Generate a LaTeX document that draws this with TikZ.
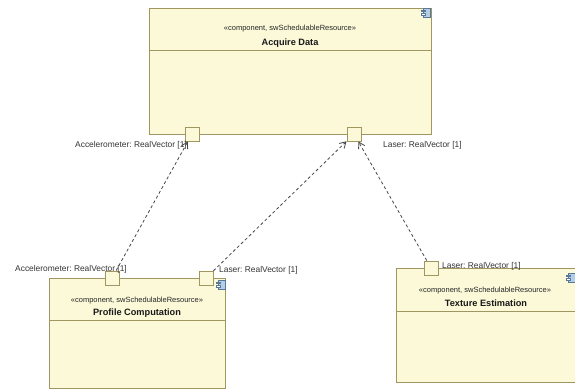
\documentclass[tikz,border=0pt]{standalone}
\usepackage{fontspec}
\setmainfont{Liberation Sans}
\usetikzlibrary{arrows.meta}
\frenchspacing
\definecolor{compfill}{RGB}{251,249,216}
\definecolor{compedge}{RGB}{160,150,98}
\definecolor{linkgrey}{RGB}{70,70,70}
\definecolor{iconblue}{RGB}{178,206,232}
\definecolor{iconedge}{RGB}{90,120,150}
\begin{document}
\begin{tikzpicture}[x=1pt,y=-1pt,
  comp/.style={draw=compedge, fill=compfill, line width=1pt, anchor=north west, inner sep=0pt},
  portbox/.style={draw=compedge, fill=compfill, line width=0.9pt, minimum size=14pt, inner sep=0pt},
  divider/.style={draw=compedge, line width=1pt},
  stereo/.style={font=\fontsize{7.5}{9}\selectfont, text=black!85, inner sep=0pt},
  ctitle/.style={font=\bfseries\fontsize{9.2}{11}\selectfont, text=black!90, inner sep=0pt},
  plabel/.style={font=\fontsize{8.4}{10}\selectfont, text=black!80, inner sep=0pt, anchor=west},
  link/.style={draw=linkgrey, dash pattern=on 3pt off 2.5pt, line width=0.8pt,
    -{Straight Barb[length=6pt,width=7pt,line width=0.8pt]}},
  cicon/.pic={
    \draw[iconedge, fill=iconblue, line width=0.4pt] (2,0) rectangle (9,9);
    \draw[iconedge, fill=white, line width=0.4pt] (0,2) rectangle (4,3.5);
    \draw[iconedge, fill=white, line width=0.4pt] (0,5.5) rectangle (4,7);
  }]
\useasboundingbox (0,0) rectangle (575,389);

% component: Acquire Data
\node[comp, minimum width=282pt, minimum height=126pt] (acq) at (149,8) {};
\draw[divider] (acq.west |- 0,50) -- (acq.east |- 0,50);
\node[stereo] (acqS) at (290,29) {«component, swSchedulableResource»};
\node[ctitle] (acqT) at (290,43) {Acquire Data};
\pic at (421,8) {cicon};

% component: Profile Computation
\node[comp, minimum width=176pt, minimum height=110pt] (prof) at (49,278) {};
\draw[divider] (prof.west |- 0,320) -- (prof.east |- 0,320);
\node[stereo] (profS) at (137,301) {«component, swSchedulableResource»};
\node[ctitle] (profT) at (137,313) {Profile Computation};
\pic at (216,280) {cicon};

% component: Texture Estimation
\node[comp, minimum width=180pt, minimum height=114pt] (tex) at (396,268) {};
\draw[divider] (tex.west |- 0,311) -- (tex.east |- 0,311);
\node[stereo] (texS) at (485,291) {«component, swSchedulableResource»};
\node[ctitle] (texT) at (486,303) {Texture Estimation};
\pic at (566,273) {cicon};

% ports
\node[portbox] (acqL) at (192,134) {};
\node[portbox] (acqR) at (354,134) {};
\node[portbox] (profL) at (112,278) {};
\node[portbox] (profR) at (206,278) {};
\node[portbox] (texP) at (431,268) {};

% port labels
\node[plabel] (lAcqL) at (75,145) {Accelerometer: RealVector [1]};
\node[plabel] (lAcqR) at (383,145) {Laser: RealVector [1]};
\node[plabel] (lProfL) at (15,269) {Accelerometer: RealVector [1]};
\node[plabel] (lProfR) at (219,270) {Laser: RealVector [1]};
\node[plabel] (lTex) at (442,266) {Laser: RealVector [1]};

% dependencies
\draw[link] (profL) -- (acqL);
\draw[link] (profR) -- (acqR);
\draw[link] (texP) -- (acqR);
\end{tikzpicture}
\end{document}
